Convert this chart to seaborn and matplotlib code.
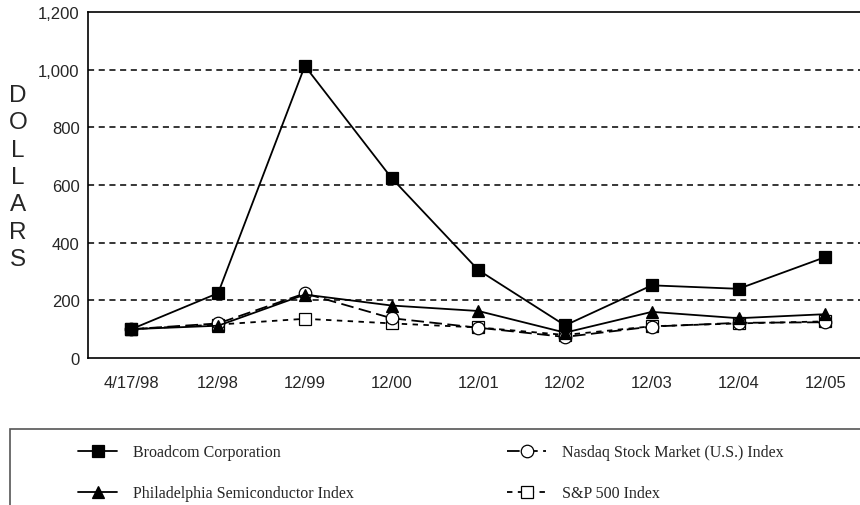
import numpy as np
import pandas as pd
import matplotlib
matplotlib.use('Agg')
import matplotlib.pyplot as plt
import seaborn as sns
from matplotlib.patches import Rectangle

# Data
dates = ['4/17/98', '12/98', '12/99', '12/00', '12/01', '12/02', '12/03', '12/04', '12/05']
broadcom = [100, 225, 1013, 624, 305, 113, 252, 240, 350]
sox = [100, 112, 220, 182, 163, 88, 160, 138, 152]
nasdaq = [100, 120, 224, 138, 105, 73, 109, 122, 124]
sp500 = [100, 116, 136, 120, 106, 80, 110, 120, 127]

sns.set_theme(style='white')
plt.rcParams['font.family'] = ['Liberation Sans', 'DejaVu Sans']

fig = plt.figure(figsize=(8.6, 5.06), dpi=100)
ax = fig.add_axes([88 / 860, 147 / 506, 772 / 860, 346 / 506])

xs = np.arange(len(dates))
series = [
    ('Broadcom Corporation', broadcom, 's', '-', 'black'),
    ('Philadelphia Semiconductor Index', sox, '^', '-', 'black'),
    ('Nasdaq Stock Market (U.S.) Index', nasdaq, 'o', (0, (7, 3)), 'white'),
    ('S&P 500 Index', sp500, 's', (0, (3, 3)), 'white'),
]
zorders = [6, 5, 4, 3]
for (name, vals, mk, ls, fc), z in zip(series, zorders):
    sns.lineplot(x=xs, y=vals, ax=ax, color='black', marker=mk, linestyle=ls,
                 markerfacecolor=fc, markeredgecolor='black', markeredgewidth=0.9,
                 markersize=9 if mk != '^' else 8.5, linewidth=1.3,
                 label=name, zorder=z)

ax.set_xlim(-0.5, 8.4)
ax.set_ylim(0, 1200)
ax.set_yticks(range(0, 1201, 200))
ax.set_yticklabels([f'{v:,}' for v in range(0, 1201, 200)], fontsize=12)
ax.set_xticks(xs)
ax.set_xticklabels(dates, fontsize=12)
ax.tick_params(axis='x', direction='in', length=8, width=1, color='black', pad=12)
ax.tick_params(axis='y', length=0, pad=6)

for v in range(200, 1001, 200):
    ax.axhline(v, color='black', linestyle=(0, (4, 3)), linewidth=1.1, zorder=1)

for side in ['left', 'bottom', 'top']:
    ax.spines[side].set_color('black')
    ax.spines[side].set_linewidth(1.2)
ax.spines['right'].set_visible(False)
ax.set_xlabel('')
ax.set_ylabel('')

fig.text(18 / 860, 1 - 178 / 506, '\n'.join('DOLLARS'), fontsize=17.5,
         ha='center', va='center', linespacing=1.32)

# legend box, clipped at figure edges like the reference
fig.add_artist(Rectangle((10 / 860, -0.1), 1.0, 1 - 430 / 506 + 0.1,
                         transform=fig.transFigure, fill=False,
                         edgecolor='#555555', linewidth=1.2))

handles, labels = ax.get_legend_handles_labels()
ax.get_legend().remove()
lkw = dict(frameon=False, prop={'family': 'Liberation Serif', 'size': 11.5},
           handlelength=2.4, labelspacing=1.55, handletextpad=1.0,
           loc='upper left')
fig.legend(handles[:2], labels[:2], bbox_to_anchor=(64 / 860, 1 - 431 / 506), **lkw)
fig.legend(handles[2:], labels[2:], bbox_to_anchor=(493 / 860, 1 - 431 / 506), **lkw)

fig.savefig('out.png', dpi=100)
